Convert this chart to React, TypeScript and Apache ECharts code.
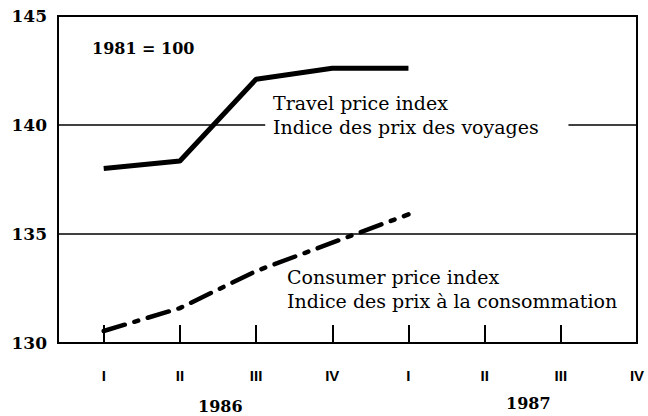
import React, { useEffect, useRef } from "react";
import * as echarts from "echarts";

const quarterLabels = ["I", "II", "III", "IV", "I", "II", "III", "IV"];
const quarterPositions = [0, 1, 2, 3, 4, 5, 6, 7];
const tickPositions = [0, 1, 2, 3, 4, 5, 6];
const dataQuarters = [0, 1, 2, 3, 4];
const travelIndex = [138.0, 138.35, 142.1, 142.6, 142.6];
const consumerIndex = [130.55, 131.6, 133.3, 134.6, 135.9];
const yTicks = [130, 135, 140, 145];
const grid135 = [[-0.6, 135], [7, 135]];
const grid140a = [[-0.6, 140], [2.12, 140]];
const grid140b = [[6.1, 140], [7, 140]];

const SERIF = "'DejaVu Serif', serif";

export default function App() {
  const ref = useRef<HTMLDivElement>(null);
  useEffect(() => {
    if (!ref.current) return;
    const chart = echarts.init(ref.current, null, { renderer: "svg" });
    const gridLine = (data: number[][]) => ({
      type: "line",
      data,
      symbol: "none",
      silent: true,
      lineStyle: { color: "#000", width: 1.5 },
      z: 1,
    });
    chart.setOption({
      animation: false,
      backgroundColor: "#fff",
      grid: {
        left: 58,
        right: 11,
        top: 16,
        bottom: 73,
        show: true,
        borderColor: "#000",
        borderWidth: 2,
      },
      xAxis: {
        type: "value",
        min: -0.6,
        max: 7,
        splitLine: { show: false },
        axisLine: { show: true, onZero: false, lineStyle: { color: "#000", width: 2 } },
        axisTick: {
          show: true,
          inside: true,
          length: 18,
          customValues: tickPositions,
          lineStyle: { color: "#000", width: 2 },
        },
        axisLabel: {
          customValues: quarterPositions,
          formatter: (v: number) => quarterLabels[Math.round(v)] ?? "",
          margin: 25,
          fontFamily: "'Liberation Sans', Arial, sans-serif",
          fontWeight: "bold",
          fontSize: 15,
          color: "#000",
        },
      },
      yAxis: {
        type: "value",
        min: 130,
        max: 145,
        interval: 5,
        splitLine: { show: false },
        axisLine: { show: true, onZero: false, lineStyle: { color: "#000", width: 2 } },
        axisTick: { show: false },
        axisLabel: {
          margin: 11,
          fontFamily: SERIF,
          fontWeight: "bold",
          fontSize: 17,
          color: "#000",
          formatter: (v: number) => (yTicks.includes(v) ? String(v) : ""),
        },
      },
      series: [
        gridLine(grid135),
        gridLine(grid140a),
        gridLine(grid140b),
        {
          type: "line",
          data: dataQuarters.map((q, i) => [q, travelIndex[i]]),
          symbol: "none",
          lineStyle: { color: "#000", width: 5 },
          z: 3,
        },
        {
          type: "line",
          data: dataQuarters.map((q, i) => [q, consumerIndex[i]]),
          symbol: "none",
          lineStyle: {
            color: "#000",
            width: 4.5,
            type: [22, 10, 4, 10],
            cap: "round",
          },
          z: 3,
        },
      ],
      graphic: [
        {
          type: "text",
          left: 92,
          top: 40,
          style: { text: "1981 = 100", font: `bold 16px ${SERIF}`, fill: "#000" },
        },
        {
          type: "text",
          left: 273,
          top: 93,
          style: { text: "Travel price index", font: `19px ${SERIF}`, fill: "#000" },
        },
        {
          type: "text",
          left: 273,
          top: 117,
          style: { text: "Indice des prix des voyages", font: `19px ${SERIF}`, fill: "#000" },
        },
        {
          type: "text",
          left: 287,
          top: 267,
          style: { text: "Consumer price index", font: `19px ${SERIF}`, fill: "#000" },
        },
        {
          type: "text",
          left: 287,
          top: 291,
          style: { text: "Indice des prix à la consommation", font: `19px ${SERIF}`, fill: "#000" },
        },
        {
          type: "text",
          left: 198,
          top: 398,
          style: { text: "1986", font: `bold 16px ${SERIF}`, fill: "#000" },
        },
        {
          type: "text",
          left: 506,
          top: 395,
          style: { text: "1987", font: `bold 16px ${SERIF}`, fill: "#000" },
        },
      ],
    });
    return () => chart.dispose();
  }, []);
  return <div ref={ref} style={{ width: 648, height: 416, position: "absolute", left: 0, top: 0 }} />;
}
